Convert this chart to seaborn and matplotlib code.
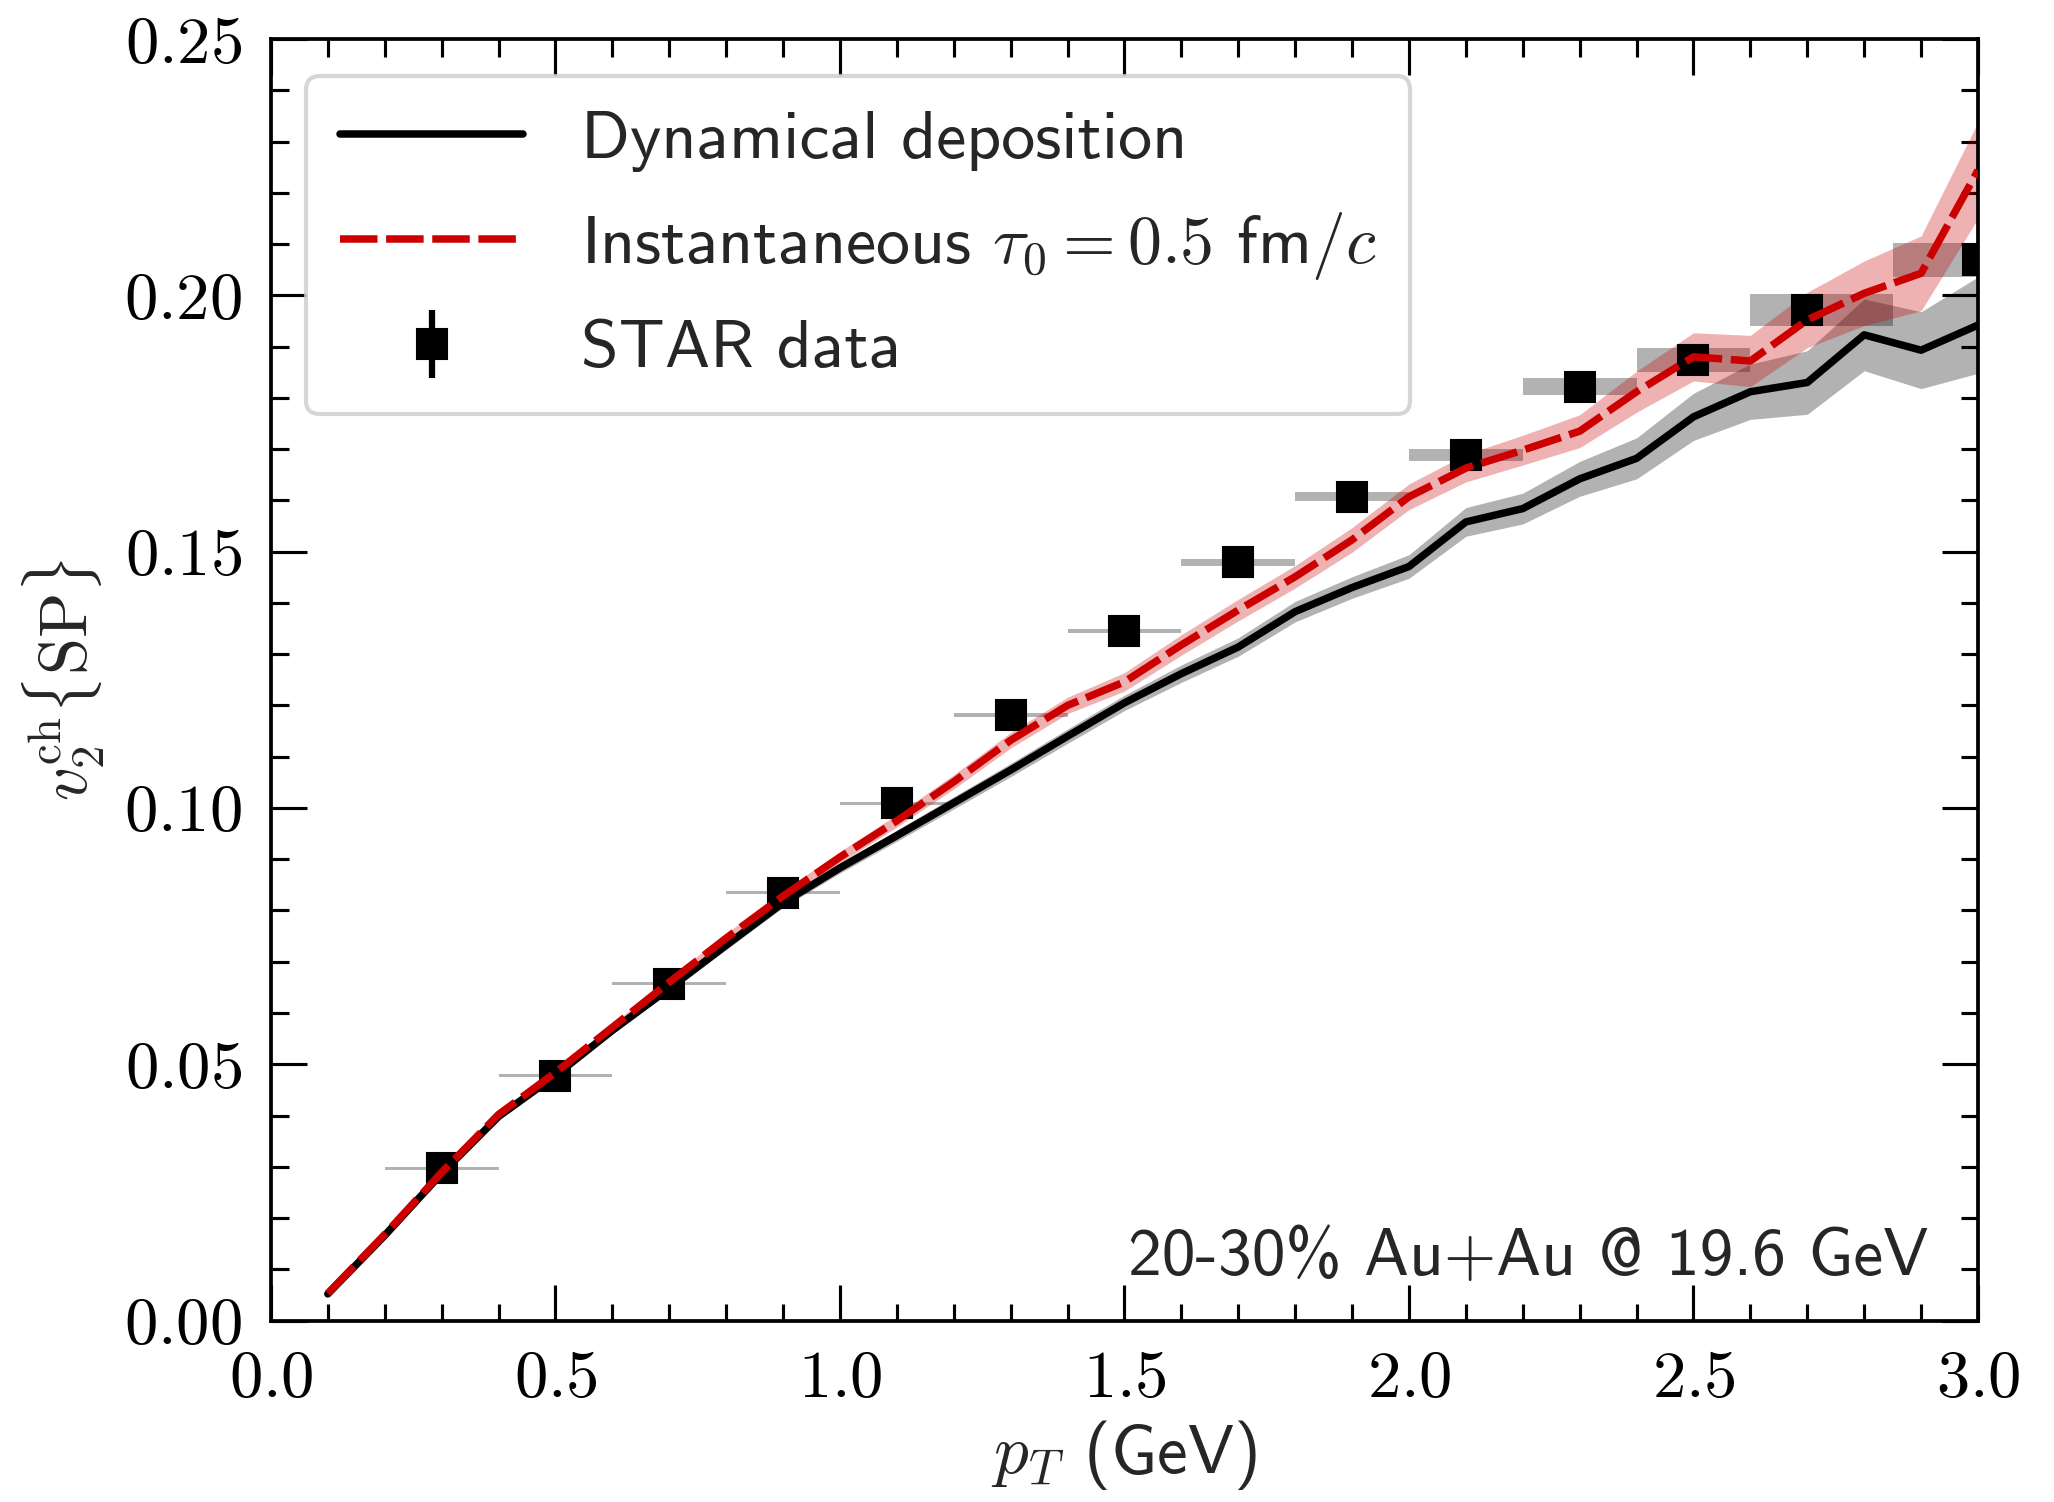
import numpy as np
import pandas as pd
import matplotlib
matplotlib.use("Agg")
import matplotlib.pyplot as plt
from matplotlib.ticker import MultipleLocator, FuncFormatter
import seaborn as sns

# ---------------- data ----------------
pt_model = [0.1, 0.2, 0.3, 0.4, 0.5, 0.6, 0.7, 0.8, 0.9, 1.0,
            1.1, 1.2, 1.3, 1.4, 1.5, 1.6, 1.7, 1.8, 1.9, 2.0,
            2.1, 2.2, 2.3, 2.4, 2.5, 2.6, 2.7, 2.8, 2.9, 3.0]

v2_dyn = [0.0052, 0.0166, 0.0287, 0.0398, 0.0478, 0.0566, 0.0648, 0.0732, 0.0815, 0.0883,
          0.0946, 0.1010, 0.1074, 0.1140, 0.1205, 0.1262, 0.1314, 0.1383, 0.1430, 0.1471,
          0.1558, 0.1584, 0.1642, 0.1682, 0.1763, 0.1812, 0.1830, 0.1923, 0.1893, 0.1942]
v2_dyn_err = [0.0003, 0.0003, 0.0004, 0.0004, 0.0005, 0.0006, 0.0007, 0.0008, 0.0009, 0.0010,
              0.0011, 0.0012, 0.0013, 0.0014, 0.0015, 0.0017, 0.0018, 0.0020, 0.0021, 0.0023,
              0.0028, 0.0030, 0.0034, 0.0040, 0.0046, 0.0054, 0.0062, 0.0070, 0.0075, 0.0094]

v2_inst = [0.0053, 0.0168, 0.0289, 0.0402, 0.0484, 0.0572, 0.0660, 0.0746, 0.0828, 0.0904,
           0.0975, 0.1051, 0.1132, 0.1200, 0.1246, 0.1318, 0.1386, 0.1451, 0.1523, 0.1607,
           0.1663, 0.1698, 0.1735, 0.1812, 0.1880, 0.1872, 0.1952, 0.2004, 0.2043, 0.2244]
v2_inst_err = [0.0003, 0.0003, 0.0004, 0.0004, 0.0005, 0.0006, 0.0008, 0.0009, 0.0010, 0.0011,
               0.0012, 0.0014, 0.0015, 0.0016, 0.0018, 0.0020, 0.0021, 0.0022, 0.0024, 0.0025,
               0.0027, 0.0029, 0.0032, 0.0040, 0.0047, 0.0050, 0.0054, 0.0063, 0.0073, 0.0094]

star_pt = [0.3, 0.5, 0.7, 0.9, 1.1, 1.3, 1.5, 1.7, 1.9, 2.1, 2.3, 2.5, 2.7, 3.0]
star_v2 = [0.0297, 0.0478, 0.0657, 0.0835, 0.1009, 0.1181, 0.1345, 0.1479, 0.1607, 0.1688,
           0.1822, 0.1874, 0.1971, 0.2069]
star_stat = [0.0003, 0.0004, 0.0004, 0.0005, 0.0006, 0.0007, 0.0008, 0.0009, 0.0011, 0.0013,
             0.0016, 0.0019, 0.0023, 0.0027]
star_sys = [0.0003, 0.0003, 0.0003, 0.0003, 0.00033, 0.0004, 0.00042, 0.0007, 0.0009, 0.0012,
            0.0017, 0.0023, 0.0031, 0.0034]
star_bin_lo = [0.2, 0.4, 0.6, 0.8, 1.0, 1.2, 1.4, 1.6, 1.8, 2.0, 2.2, 2.4, 2.6, 2.85]
star_bin_hi = [0.4, 0.6, 0.8, 1.0, 1.2, 1.4, 1.6, 1.8, 2.0, 2.2, 2.4, 2.6, 2.85, 3.15]

labels = ["Dynamical deposition",
          r"Instantaneous $\tau_0 = 0.5$ fm$/c$",
          "STAR data"]
annotation = "20-30% Au+Au @ 19.6 GeV"

# ---------------- style ----------------
sns.set_style("ticks")
plt.rcParams.update({
    "font.family": ["cmss10", "DejaVu Sans"],
    "mathtext.fontset": "cm",
    "axes.unicode_minus": False,
    "axes.linewidth": 0.9,
    "xtick.direction": "in",
    "ytick.direction": "in",
    "xtick.top": True,
    "ytick.right": True,
    "xtick.major.size": 8.6,
    "ytick.major.size": 8.6,
    "xtick.minor.size": 4.2,
    "ytick.minor.size": 4.2,
    "xtick.major.width": 0.75,
    "ytick.major.width": 0.75,
    "xtick.minor.width": 0.75,
    "ytick.minor.width": 0.75,
    "xtick.major.pad": 7,
    "ytick.major.pad": 7,
    "xtick.color": "black",
    "ytick.color": "black",
    "axes.edgecolor": "black",
})

fig = plt.figure(figsize=(2054 / 300, 1502 / 300), dpi=300)
ax = fig.add_axes([0.1319, 0.1208, 0.8311, 0.8532])

red = "#CC0000"

df_dyn = pd.DataFrame({"pt": pt_model, "v2": v2_dyn, "err": v2_dyn_err})
df_inst = pd.DataFrame({"pt": pt_model, "v2": v2_inst, "err": v2_inst_err})
df_star = pd.DataFrame({"pt": star_pt, "v2": star_v2, "stat": star_stat, "sys": star_sys,
                        "lo": star_bin_lo, "hi": star_bin_hi})

# systematic boxes
ax.bar(df_star["lo"], 2 * df_star["sys"], width=df_star["hi"] - df_star["lo"],
       bottom=df_star["v2"] - df_star["sys"], align="edge",
       color="black", alpha=0.3, linewidth=0, zorder=1)

# model bands
ax.fill_between(df_dyn["pt"], df_dyn["v2"] - df_dyn["err"], df_dyn["v2"] + df_dyn["err"],
                color="black", alpha=0.3, linewidth=0, zorder=2)
ax.fill_between(df_inst["pt"], df_inst["v2"] - df_inst["err"], df_inst["v2"] + df_inst["err"],
                color=red, alpha=0.3, linewidth=0, zorder=2)

# data
eb = ax.errorbar(df_star["pt"], df_star["v2"], yerr=df_star["stat"], fmt="s",
                 color="black", ms=7.0, mew=0.5, elinewidth=1.5, capsize=0, zorder=3)

# model lines
sns.lineplot(data=df_dyn, x="pt", y="v2", ax=ax, color="black", lw=1.8,
             errorbar=None, zorder=4)
l_dyn = ax.lines[-1]
sns.lineplot(data=df_inst, x="pt", y="v2", ax=ax, color=red, lw=1.8,
             errorbar=None, zorder=5, linestyle=(0, (5.0, 1.15)))
l_inst = ax.lines[-1]

ax.set_xlim(0, 3.0)
ax.set_ylim(0, 0.25)
ax.xaxis.set_major_locator(MultipleLocator(0.5))
ax.xaxis.set_minor_locator(MultipleLocator(0.1))
ax.yaxis.set_major_locator(MultipleLocator(0.05))
ax.yaxis.set_minor_locator(MultipleLocator(0.01))
ax.xaxis.set_major_formatter(FuncFormatter(lambda v, p: f"${v:.1f}$"))
ax.yaxis.set_major_formatter(FuncFormatter(lambda v, p: f"${v:.2f}$"))
ax.tick_params(which="both", labelsize=16)

ax.set_xlabel(r"$p_T$ (GeV)", fontsize=16.6, labelpad=2)
ax.set_ylabel(r"$v_2^{\mathrm{ch}}\{\mathrm{SP}\}$", fontsize=16, labelpad=4)

ax.text(0.971, 0.0355, annotation, transform=ax.transAxes, ha="right", va="baseline",
        fontsize=16.2)

leg = ax.legend([l_dyn, l_inst, eb], labels, loc="upper left",
                bbox_to_anchor=(0.0205, 0.971), borderaxespad=0, fontsize=16.3,
                handlelength=2.7, handletextpad=0.85, labelspacing=0.56, borderpad=0.5,
                frameon=True, fancybox=True, framealpha=0.8, edgecolor="0.8")

fig.savefig("out.png", dpi=300)
